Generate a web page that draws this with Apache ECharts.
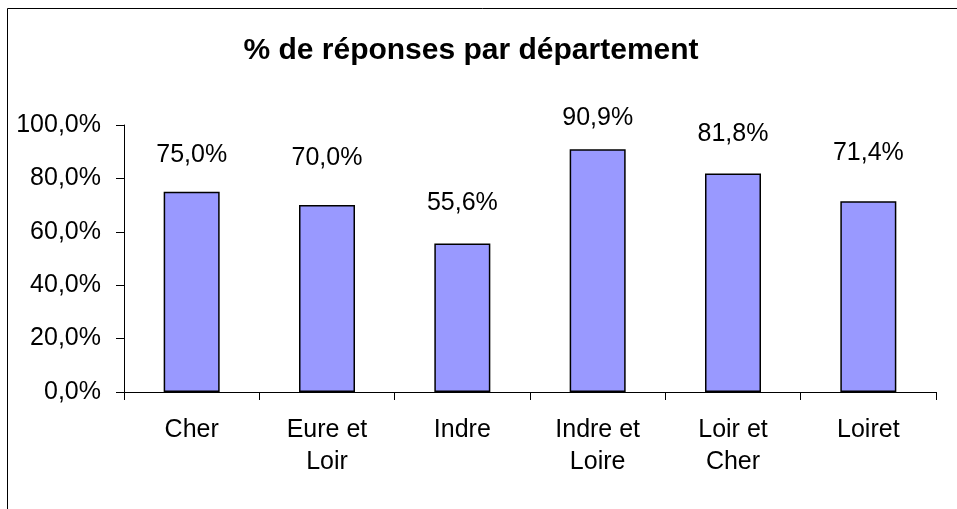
<!DOCTYPE html>
<html>
<head>
<meta charset="utf-8">
<script src="https://cdn.jsdelivr.net/npm/echarts@6/dist/echarts.min.js"></script>
<style>
  html, body { margin: 0; padding: 0; background: #fff; }
  #chart { width: 957px; height: 509px; }
</style>
</head>
<body>
<div id="chart"></div>
<script>
const chartTitle = '% de réponses par département'
const departements = ['Cher', 'Eure et\nLoir', 'Indre', 'Indre et\nLoire', 'Loir et\nCher', 'Loiret']
const tauxReponse = [0.75, 0.70, 0.556, 0.909, 0.818, 0.714]
const yTicks = [0, 0.2, 0.4, 0.6, 0.8, 1]

// labels sit at slightly different heights above each bar in the original
const labelGap = [24, 34, 28, 19, 27, 36]

const font = '"Liberation Sans", Arial, sans-serif'
const fmtPct = v => (v * 100).toFixed(1).replace('.', ',') + '%'

const chart = echarts.init(document.getElementById('chart'))

chart.setOption({
  animation: false,
  backgroundColor: '#fff',
  textStyle: { fontFamily: font },
  graphic: [{
    type: 'rect',
    shape: { x: 7.5, y: 8.5, width: 1200, height: 800 },
    style: { fill: 'none', stroke: '#000', lineWidth: 1 },
    silent: true
  }],
  title: {
    text: chartTitle,
    left: 466,
    textAlign: 'center',
    top: 31,
    textStyle: { fontFamily: font, fontSize: 30, fontWeight: 'bold', color: '#000' }
  },
  grid: { left: 124, right: 21, top: 125, bottom: 117, containLabel: false },
  xAxis: {
    type: 'category',
    data: departements,
    axisLine: { lineStyle: { color: '#000', width: 1 } },
    axisTick: { show: true, length: 8, lineStyle: { color: '#000' } },
    axisLabel: {
      color: '#000', fontSize: 25, fontFamily: font,
      lineHeight: 32, margin: 22, interval: 0
    }
  },
  yAxis: {
    type: 'value',
    min: yTicks[0],
    max: yTicks[yTicks.length - 1],
    interval: yTicks[1] - yTicks[0],
    splitLine: { show: false },
    axisLine: { show: true, lineStyle: { color: '#000', width: 1 } },
    axisTick: { show: true, length: 8, lineStyle: { color: '#000' } },
    axisLabel: {
      color: '#000', fontSize: 25, fontFamily: font, margin: 23,
      formatter: v => fmtPct(v)
    }
  },
  series: [{
    type: 'bar',
    barWidth: 56,
    data: tauxReponse.map((v, i) => ({
      value: v,
      label: { distance: labelGap[i] }
    })),
    itemStyle: { color: '#9999FF', borderColor: '#000', borderWidth: 1.5 },
    label: {
      show: true,
      position: 'top',
      color: '#000',
      fontSize: 25,
      fontFamily: font,
      formatter: p => fmtPct(p.value)
    }
  }]
})
</script>
</body>
</html>
